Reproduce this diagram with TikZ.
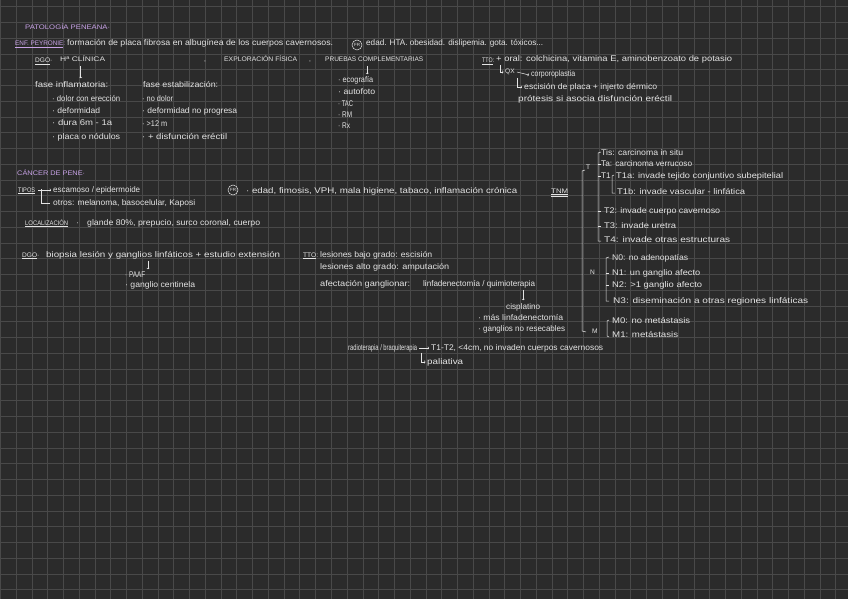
\documentclass[tikz,border=0pt]{standalone}
\usepackage{fontspec}
\setmainfont{Liberation Sans}
\usetikzlibrary{arrows.meta,calc}
\definecolor{bg}{HTML}{2B2B2B}
\definecolor{gridc}{HTML}{494949}
\definecolor{ink}{HTML}{E4E4E4}
\definecolor{lav}{HTML}{C9A3E8}
\newcommand\fw[2]{\resizebox{#1pt}{\height}{#2}}
\tikzset{
 tx/.style={anchor=west,inner sep=0pt,text height=5.6pt,text depth=1.6pt,text=ink,font=\fontsize{8.2}{9}\selectfont},
 tcap/.style={tx,font=\fontsize{6.6}{8}\selectfont},
 tlav/.style={tcap,text=lav},
 arr/.style={draw=ink,line width=0.5pt,-{To[length=1.4pt,width=2.8pt]}},
 ln/.style={draw=ink,line width=0.5pt},
 frc/.style={circle,draw=ink,line width=0.5pt,inner sep=0pt,minimum size=10pt,text=ink,font=\fontsize{4.5}{5}\selectfont},
 gridline/.style={draw=gridc,line width=0.5pt}
}
\begin{document}
\begin{tikzpicture}[x=1pt,y=-1pt]
\fill[bg] (0,0) rectangle (848,599);
\useasboundingbox (0,0) rectangle (848,599);
\foreach \i in {0,...,53} \draw[gridline] ({0.3+15.76*\i},0) -- ++(0,599);
\foreach \j in {0,...,37} \draw[gridline] (0,{6.5+15.76*\j}) -- ++(848,0);

% ---------- Patologia peneana ----------
\node[tlav] (title) at (25,28) {\fw{85}{PATOLOGÍA PENEANA·}};
\node[tlav] (enf) at (15,44) {\fw{50}{\underline{ENF. PEYRONIE}:}};
\node[tx] (def) at (67,44) {\fw{266}{formación de placa fibrosa en albugínea de los cuerpos cavernosos.}};
\node[frc] (fr1) at (357,45) {FR};
\node[tx] (fr1t) at (366,44) {\fw{177}{edad. HTA. obesidad. dislipemia. gota. tóxicos...}};

\node[tcap] (dgo1) at (35,61) {\underline{DGO}·};
\node[tcap] (hc) at (60,60) {\fw{45}{Hª CLÍNICA}};
\node[tcap] (c1) at (204,60) {,};
\node[tcap] (exp) at (224,60) {\fw{73}{EXPLORACIÓN FÍSICA}};
\node[tcap] (c2) at (309,60) {,};
\node[tcap] (pc) at (325,60) {\fw{98}{PRUEBAS COMPLEMENTARIAS}};

\node[tx] (fi) at (35,86) {\fw{73}{fase inflamatoria:}};
\node[tx] (fe) at (143,86) {\fw{75}{fase estabilización:}};
\node[tx] (fi1) at (52,100) {\fw{68}{· dolor con erección}};
\node[tx] (fi2) at (52,112) {\fw{48}{· deformidad}};
\node[tx] (fi3) at (52,124) {\fw{60}{· dura 6m - 1a}};
\node[tx] (fi4) at (52,137) {\fw{68}{· placa o nódulos}};
\node[tx] (fe1) at (142,100) {\fw{31}{· no dolor}};
\node[tx] (fe2) at (142,112) {\fw{95}{· deformidad no progresa}};
\node[tx] (fe3) at (142,124) {\fw{25}{· >12 m}};
\node[tx] (fe4) at (142,137) {\fw{85}{· + disfunción eréctil}};

\node[tx] (p1) at (338,81) {\fw{35}{· ecografía}};
\node[tx] (p2) at (338,93) {\fw{37}{· autofoto}};
\node[tx] (p3) at (338,105) {\fw{15}{· TAC}};
\node[tx] (p4) at (338,116) {\fw{14}{· RM}};
\node[tx] (p5) at (338,127) {\fw{12}{· Rx}};

\draw[arr] ([xshift=-2pt,yshift=-2pt]hc.south) -- ([xshift=-2pt,yshift=4pt]hc.south |- fi.north);
\draw[arr] ([xshift=-7pt,yshift=-2pt]pc.south) -- ([xshift=-7pt,yshift=3pt]pc.south |- p1.north);

\node[tcap] (tto1) at (482,61) {\fw{12}{\underline{TTO}:}};
\node[tx] (oral) at (496,60) {\fw{236}{+ oral: colchicina, vitamina E, aminobenzoato de potasio}};
\node[tcap] (qx) at (505,72) {QX};
\node[tx] (corp) at (531,75) {\fw{44}{corporoplastia}};
\node[tx] (esc) at (524,87) {\fw{133}{escisión de placa + injerto dérmico}};
\node[tx] (pro) at (518,100) {\fw{154}{prótesis si asocia disfunción eréctil}};
\draw[arr] ([xshift=4pt,yshift=-1pt]oral.south west) |- ([xshift=-1.5pt]qx.west);
\draw[arr] ([xshift=2pt]qx.east) -- ([xshift=-2pt]corp.west);
\draw[arr] ([xshift=2pt,yshift=-2pt]qx.south east) |- ([xshift=-2pt]esc.west);

% ---------- Cancer de pene ----------
\node[tlav] (cp) at (17,173) {\fw{68}{CÁNCER DE PENE·}};
\node[tcap] (tip) at (18,190) {\fw{17}{\underline{TIPOS}}};
\node[tx] (esc2) at (53,190) {\fw{87}{escamoso / epidermoide}};
\node[tx] (otr) at (53,203) {\fw{142}{otros: melanoma, basocelular, Kaposi}};
\draw[arr] ([xshift=3pt]tip.east) -- ([xshift=-2pt]esc2.west);
\draw[ln] ([xshift=6pt,yshift=1pt]tip.east) |- ([xshift=-3pt]otr.west);

\node[frc] (fr2) at (233,190) {FR};
\node[tx] (fr2t) at (246,191) {\fw{271}{· edad, fimosis, VPH, mala higiene, tabaco, inflamación crónica}};

\node[tcap] (loc) at (25,223) {\fw{43}{\underline{LOCALIZACIÓN}}};
\node[tx] (locc) at (76,223) {·};
\node[tx] (glande) at (87,223) {\fw{173}{glande 80\%, prepucio, surco coronal, cuerpo}};

\node[tcap] (dgo2) at (22,255) {\underline{DGO}·};
\node[tx] (bio) at (46,255) {\fw{234}{biopsia lesión y ganglios linfáticos + estudio extensión}};
\node[tx] (paaf) at (125,275) {\fw{20}{· PAAF}};
\node[tx] (gc) at (125,285) {\fw{70}{· ganglio centinela}};
\draw[arr] ([xshift=102pt,yshift=-2pt]bio.south west) -- ([xshift=23pt,yshift=2pt]paaf.north west);

\node[tcap] (tto2) at (303,255) {\underline{TTO}:};
\node[tx] (l1) at (320,255) {\fw{112}{lesiones bajo grado: escisión}};
\node[tx] (l2) at (320,267) {\fw{129}{lesiones alto grado: amputación}};
\node[tx] (l3) at (320,284) {\fw{90}{afectación ganglionar:}};
\node[tx] (l3b) at (423,284) {\fw{112}{linfadenectomía / quimioterapia}};
\node[tx] (cis) at (506,307) {\fw{34}{cisplatino}};
\node[tx] (mas) at (478,318) {\fw{85}{· más linfadenectomía}};
\node[tx] (gnr) at (478,329) {\fw{87}{· ganglios no resecables}};
\draw[arr] ([yshift=-2pt]l3b.south -| cis.north) -- ([yshift=3pt]cis.north);

\node[tx] (rt) at (348,348) {\fw{69}{radioterapia / braquiterapia}};
\node[tx] (t12) at (431,348) {\fw{172}{T1-T2, <4cm, no invaden cuerpos cavernosos}};
\node[tx] (pal) at (427,362) {\fw{36}{paliativa}};
\draw[arr] ([xshift=2pt]rt.east) -- ([xshift=-2pt]t12.west);
\draw[arr] ([xshift=4pt,yshift=-1pt]rt.south east) |- ([xshift=-1.5pt]pal.west);

% ---------- TNM ----------
\node[tcap] (tnm) at (551,191) {\fw{17}{\underline{\underline{TNM}}}};
\draw[ln] (585,170) -- (582,171) -- (582,331) -- (586,332);
\node[tcap] (lt) at (586,167) {T};
\node[tcap] (ln) at (590,272) {N};
\node[tcap] (lm) at (592,331) {M};

\draw[ln] (601,152) -- (598,153) -- (598,241) -- (601,241);
\foreach \yy in {164,176,211,226} \draw[ln] (598,\yy) -- (600.5,\yy);
\node[tx] (tis) at (601,153) {\fw{82}{Tis: carcinoma in situ}};
\node[tx] (ta) at (601,164) {\fw{91}{Ta: carcinoma verrucoso}};
\node[tx] (t1) at (601,176) {T1};
\draw[ln] (614,175) -- (612,176) -- (612,193) -- (615,193);
\node[tx] (t1a) at (616,176) {\fw{167}{T1a: invade tejido conjuntivo subepitelial}};
\node[tx] (t1b) at (617,192) {\fw{128}{T1b: invade vascular - linfática}};
\node[tx] (t2) at (604,211) {\fw{116}{T2: invade cuerpo cavernoso}};
\node[tx] (t3) at (604,226) {\fw{72}{T3: invade uretra}};
\node[tx] (t4) at (604,240) {\fw{126}{T4: invade otras estructuras}};

\draw[ln] (609,257) -- (606,258) -- (606,301) -- (609,301);
\foreach \yy in {273,285} \draw[ln] (606,\yy) -- (608.5,\yy);
\node[tx] (n0) at (612,258) {\fw{76}{N0: no adenopatías}};
\node[tx] (n1) at (612,273) {\fw{88}{N1: un ganglio afecto}};
\node[tx] (n2) at (612,285) {\fw{90}{N2: >1 ganglio afecto}};
\node[tx] (n3) at (613,301) {\fw{195}{N3: diseminación a otras regiones linfáticas}};

\draw[ln] (609,320) -- (607,321) -- (607,336) -- (609,337);
\node[tx] (m0) at (612,321) {\fw{78}{M0: no metástasis}};
\node[tx] (m1) at (612,335) {\fw{66}{M1: metástasis}};
\end{tikzpicture}
\end{document}
